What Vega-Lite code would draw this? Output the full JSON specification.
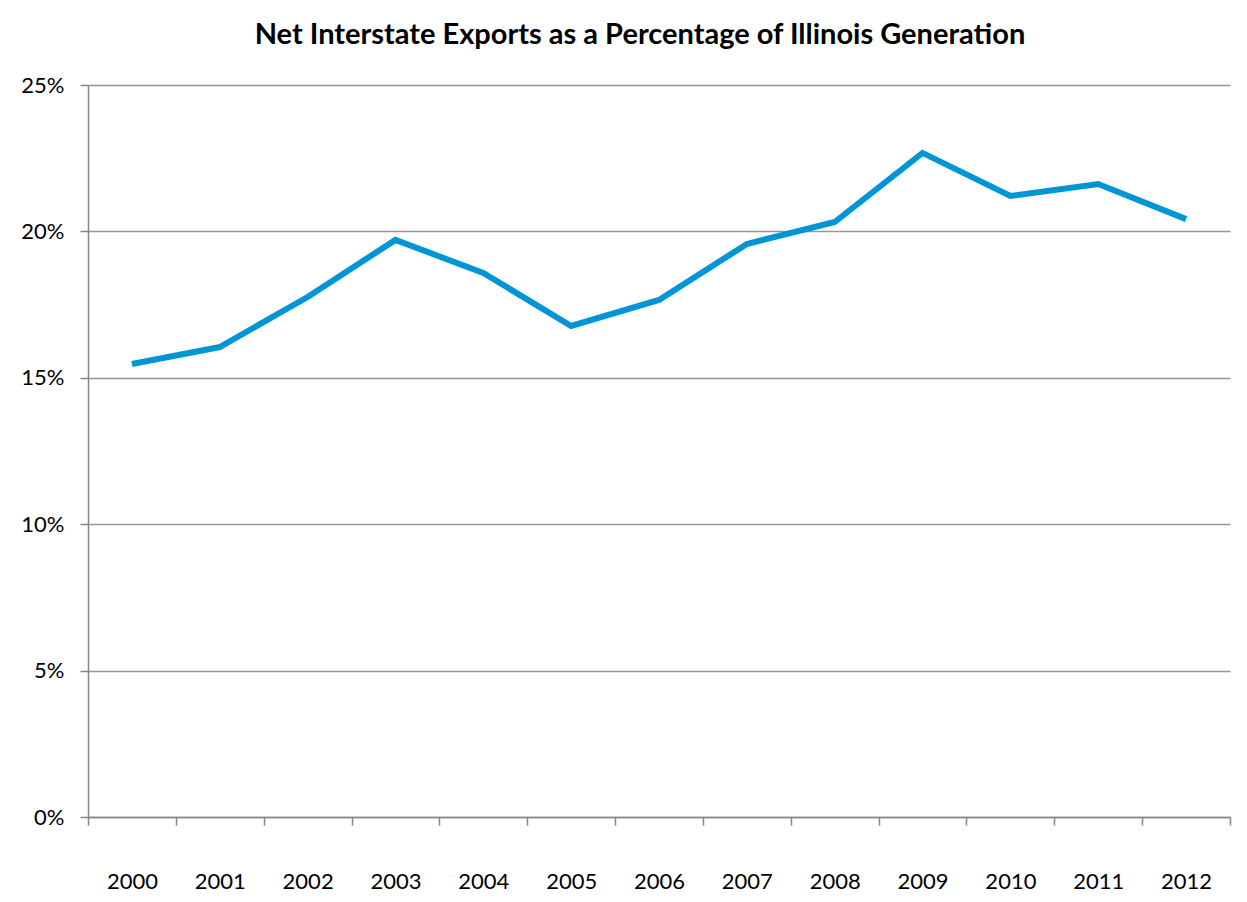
{
  "$schema": "https://vega.github.io/schema/vega-lite/v6.json",
  "width": 1142,
  "height": 732,
  "autosize": "none",
  "padding": {"left": 88, "top": 85, "right": 17, "bottom": 85},
  "background": "white",
  "config": {
    "view": {"stroke": null},
    "font": "Lato"
  },
  "title": {
    "text": "Net Interstate Exports as a Percentage of Illinois Generation",
    "font": "Lato",
    "fontSize": 29,
    "fontWeight": "bold",
    "color": "#000000",
    "anchor": "middle",
    "dx": -19,
    "offset": 24
  },
  "data": {
    "values": [
      {"year": "2000", "pct": 15.47},
      {"year": "2001", "pct": 16.05},
      {"year": "2002", "pct": 17.76},
      {"year": "2003", "pct": 19.71},
      {"year": "2004", "pct": 18.58},
      {"year": "2005", "pct": 16.77},
      {"year": "2006", "pct": 17.66},
      {"year": "2007", "pct": 19.57},
      {"year": "2008", "pct": 20.32},
      {"year": "2009", "pct": 22.68},
      {"year": "2010", "pct": 21.21},
      {"year": "2011", "pct": 21.62},
      {"year": "2012", "pct": 20.42}
    ]
  },
  "mark": {"type": "line", "color": "#0096d6", "strokeWidth": 6, "strokeJoin": "miter", "strokeCap": "butt"},
  "encoding": {
    "x": {
      "field": "year",
      "type": "ordinal",
      "bandPosition": 0.5,
      "scale": {"type": "band", "paddingInner": 0, "paddingOuter": 0},
      "axis": {
        "title": null,
        "tickBand": "extent",
        "labelAngle": 0,
        "labelFontSize": 22,
        "labelFont": "Lato",
        "labelColor": "#000000",
        "labelPadding": 46,
        "tickSize": 8,
        "tickColor": "#868686",
        "domainColor": "#868686",
        "domainWidth": 1.5,
        "tickWidth": 1.5,
        "grid": false
      }
    },
    "y": {
      "field": "pct",
      "type": "quantitative",
      "scale": {"domain": [0, 25], "nice": false},
      "axis": {
        "title": null,
        "values": [0, 5, 10, 15, 20, 25],
        "labelExpr": "datum.value + '%'",
        "labelFontSize": 22,
        "labelFont": "Lato",
        "labelColor": "#000000",
        "labelPadding": 16,
        "tickSize": 8,
        "tickColor": "#868686",
        "tickWidth": 1.5,
        "domainColor": "#868686",
        "domainWidth": 1.5,
        "grid": true,
        "gridColor": "#969696",
        "gridWidth": 1.5
      }
    }
  }
}
